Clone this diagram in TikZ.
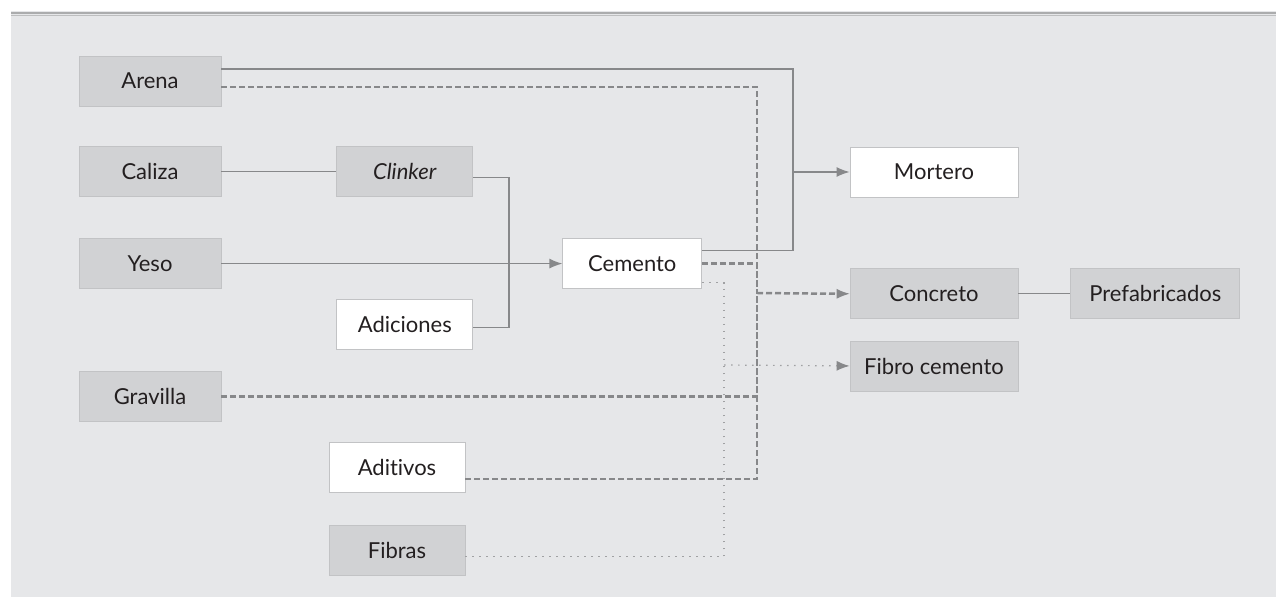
\documentclass[tikz,border=0pt]{standalone}
\usepackage{fontspec}
\setmainfont{Lato}[Ligatures=NoCommon]
\usetikzlibrary{shapes,arrows.meta,positioning}
\definecolor{fondo}{RGB}{230,231,233}
\definecolor{caja}{RGB}{209,210,212}
\definecolor{borde}{RGB}{194,195,197}
\definecolor{linea}{RGB}{135,136,138}
\definecolor{punto}{RGB}{160,161,163}
\definecolor{texto}{RGB}{35,31,32}
\tikzset{materia/.style={rectangle, draw=borde, fill=caja, text=texto, minimum width=71pt,
 minimum height=25pt, inner sep=0pt, font=\fontsize{11}{13}\selectfont}}
\tikzset{producto/.style={materia, fill=white}}
\tikzset{punta/.style={-{Latex[length=6.5pt,width=5pt,color=linea]}}}
\tikzset{line/.style={draw=linea, line width=0.65pt}}
\tikzset{flecha/.style={line, punta}}
\tikzset{dashline/.style={draw=linea, line width=1.25pt, dash pattern=on 3pt off 1.5pt}}
\tikzset{dotline/.style={draw=punto, line width=0.6pt, dash pattern=on 0.8pt off 2.7pt}}

\begin{document}
\begin{tikzpicture}[x=1pt, y=1pt]
        \useasboundingbox (0,0) rectangle (638,-298.5);
        \fill[fondo] (5.5,-5.5) rectangle (638,-298.5);
        \draw[line width=1pt, color=linea!70] (5.5,-6.3) -- (638,-6.3);
        \draw[line width=0.5pt, color=linea!55] (5.5,-7.9) -- (638,-7.9);

        % materias primas
        \node[materia] at (75,-40.5)                  (arena){Arena};
        \node[materia, below=20pt of arena]          (caliza){Caliza};
        \node[materia, below=20.5pt of caliza]       (yeso){Yeso};
        \node[materia, below=41pt of yeso]           (gravilla){Gravilla};
        \node[materia, minimum width=68pt, right=57.5pt of caliza] (clinker){\textit{Clinker}};
        \node[producto, minimum width=68pt, below=51pt of clinker] (adiciones){Adiciones};
        \node[producto, minimum width=69.5pt, right=170.5pt of yeso] (cemento){Cemento};
        \node[producto, minimum width=68pt] at (198.5,-233.5) (aditivos){Aditivos};
        \node[materia, minimum width=68pt, below=16.5pt of aditivos] (fibras){Fibras};

        % productos
        \node[producto, minimum width=84pt] at (467,-86)   (mortero){Mortero};
        \node[materia, minimum width=84pt, below=35.5pt of mortero] (concreto){Concreto};
        \node[materia, minimum width=84pt, below=11pt of concreto] (fibro){Fibro cemento};
        \node[materia, minimum width=84.5pt, right=26pt of concreto] (prefab){Prefabricados};

        \coordinate (mbus) at (396.5,-86);
        \coordinate (dbus) at (378.5,-146.5);
        \coordinate (fbus) at (362,-182.5);
        \coordinate (cbus) at (254.5,-131.5);

        \path[line] (caliza) --          (clinker);
        \path[line] ([yshift=-3pt]clinker.east) -| (cbus);
        \path[line] ([yshift=-1.5pt]adiciones.east) -| (cbus);
        \path[flecha] (yeso) --          (cemento);
        \path[line] (concreto) --        (prefab);

        \path[dotline] ([yshift=-9.5pt]cemento.east) -| (fbus);
        \path[dotline] ([yshift=-3pt]fibras.east) -| (fbus);
        \path[dotline, punta] (fbus) --  (fibro);

        \path[dashline] ([yshift=-3pt]arena.east) -| (dbus);
        \path[dashline] (cemento.east) -| (dbus);
        \path[dashline] (gravilla.east) -| (dbus);
        \path[dashline] ([yshift=-6pt]aditivos.east) -| (dbus);
        \path[dashline, line width=0.65pt, punta] ([xshift=-1pt]concreto.west) -- (concreto.west);
        \path[dashline] (dbus) -- ([xshift=-5pt]concreto.west);

        \path[line] ([yshift=6pt]arena.east) -| (mbus);
        \path[line] ([yshift=6.5pt]cemento.east) -| (mbus);
        \path[flecha] (mbus) --          (mortero);

      \end{tikzpicture}
\end{document}
